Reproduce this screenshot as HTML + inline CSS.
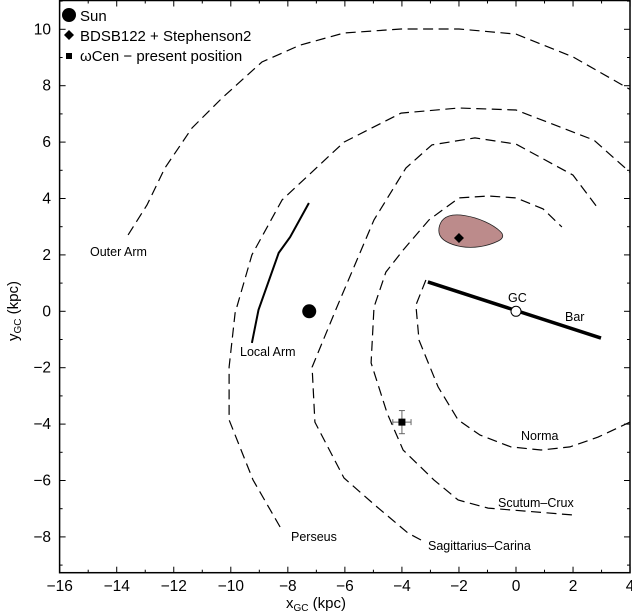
<!DOCTYPE html>
<html><head><meta charset="utf-8"><style>
html,body{margin:0;padding:0;background:#fff}
svg{display:block;font-family:"Liberation Sans",sans-serif}
</style></head><body>
<svg id="chart" width="632" height="613" viewBox="0 0 632 613" xmlns="http://www.w3.org/2000/svg"></svg>
<script>
// ---- data (kpc) ----
const outerX = [-13.6,-12.94,-12.31,-11.36,-10.31,-8.91,-7.57,-6.03,-4.03,-2.0,0,2.0,4.03];
const outerY = [2.71,3.77,5.08,6.5,7.56,8.84,9.44,9.87,10.01,10.01,9.83,9.02,7.85];
const perseusX = [-8.27,-9.22,-10.06,-10.06,-9.85,-9.26,-8.2,-6.03,-4.03,-2.0,0,2.73,4.03];
const perseusY = [-7.65,-5.98,-3.85,-1.98,-0.06,2.0,3.95,6.0,7.03,7.21,7.14,6.07,4.9];
const sagX = [-3.33,-3.79,-4.87,-6.03,-7.05,-7.15,-6.28,-4.98,-3.86,-2.95,-1.44,0,2.0,2.84];
const sagY = [-8.11,-7.86,-6.94,-5.91,-3.93,-1.98,0.15,3.24,5.08,5.9,6.15,5.93,4.83,3.7];
const scutumX = [1.96,-0.98,-2.03,-2.88,-3.96,-4.52,-5.08,-4.98,-4.56,-3.96,-3.05,-2.0,-0.95,0,0.95,1.61];
const scutumY = [-7.22,-6.98,-6.69,-5.98,-4.92,-3.61,-1.83,0.15,1.39,2.17,3.24,4.02,4.09,4.02,3.63,2.99];
const normaX = [4.0,2.88,1.89,0.88,-0.18,-1.26,-2.03,-2.73,-3.4,-3.51,-3.16];
const normaY = [-3.93,-4.46,-4.81,-4.92,-4.81,-4.39,-3.85,-2.68,-1.02,0.22,1.11];
const localX = [-9.26,-9.03,-8.32,-7.92,-7.26];
const localY = [-1.12,0.05,2.07,2.63,3.84];
const barX = [-3.09,2.98];
const barY = [1.04,-0.95];
const blobX = [-0.35,-0.74,-1.44,-2.14,-2.56,-2.73,-2.66,-2.24,-1.61,-0.91,-0.35];
const blobY = [2.63,3.02,3.34,3.45,3.31,2.95,2.6,2.35,2.24,2.35,2.56];
const sunPos = [-7.25,0];
const gcPos = [0,0];
const clusterPos = [-2.0,2.6];
const omegaPos = [-4.0,-3.93];
const omegaErr = [0.32,0.41];
const xTicks = [-16,-14,-12,-10,-8,-6,-4,-2,0,2,4];
const xTickLabels = ["\u221216","\u221214","\u221212","\u221210","\u22128","\u22126","\u22124","\u22122","0","2","4"];
const yTicks = [-8,-6,-4,-2,0,2,4,6,8,10];
const yTickLabels = ["\u22128","\u22126","\u22124","\u22122","0","2","4","6","8","10"];

// ---- axes ----
const L=59.6, R=630, T=0.5, B=572.7;
const sx = v => 516 + v*28.52;
const sy = v => 311.3 - v*28.2;
const NS="http://www.w3.org/2000/svg";
const svg=document.getElementById('chart');
function mk(tag,attrs,parent){const e=document.createElementNS(NS,tag);for(const k in attrs)e.setAttribute(k,attrs[k]);(parent||svg).appendChild(e);return e;}
function pts(xs,ys){return xs.map((x,i)=>sx(x).toFixed(1)+','+sy(ys[i]).toFixed(1)).join(' ');}

const clipDef=mk('defs',{});
const cp=mk('clipPath',{id:'pc'},clipDef);
mk('rect',{x:L,y:T,width:R-L,height:B-T},cp);
const plot=mk('g',{'clip-path':'url(#pc)'});



function arm(xs,ys,name){
  const p=mk('polyline',{points:pts(xs,ys),fill:'none',stroke:'#000','stroke-width':1.2,'stroke-dasharray':'10,5.5'},plot);
  
  
}
arm(outerX,outerY,'outer-arm-line');
arm(perseusX,perseusY,'perseus-arm-line');
arm(sagX,sagY,'sagittarius-carina-arm-line');
arm(scutumX,scutumY,'scutum-crux-arm-line');
arm(normaX,normaY,'norma-arm-line');

const loc=mk('polyline',{points:pts(localX,localY),fill:'none',stroke:'#000','stroke-width':2},plot);



(function(){
  const n=blobX.length-1;
  const P=[];for(let i=0;i<n;i++)P.push([sx(blobX[i]),sy(blobY[i])]);
  const mid=(a,b)=>[(a[0]+b[0])/2,(a[1]+b[1])/2];
  let m0=mid(P[n-1],P[0]);
  let d='M'+m0[0].toFixed(1)+','+m0[1].toFixed(1);
  for(let i=0;i<n;i++){const m=mid(P[i],P[(i+1)%n]);d+=' Q'+P[i][0].toFixed(1)+','+P[i][1].toFixed(1)+' '+m[0].toFixed(1)+','+m[1].toFixed(1);}
  const b=mk('path',{d:d+'Z',fill:'#bc8b8b',stroke:'#222','stroke-width':0.8},plot);
  
  
})();

const bar=mk('line',{x1:sx(barX[0]),y1:sy(barY[0]),x2:sx(barX[1]),y2:sy(barY[1]),stroke:'#000','stroke-width':3.5},plot);



const gc=mk('circle',{cx:sx(gcPos[0]),cy:sy(gcPos[1]),r:5,fill:'#fff',stroke:'#000','stroke-width':1},plot);



const sun=mk('circle',{cx:sx(sunPos[0]),cy:sy(sunPos[1]),r:7,fill:'#000'},plot);



const cx=sx(clusterPos[0]),cy=sy(clusterPos[1]);
const dia=mk('polygon',{points:`${cx},${cy-5} ${cx+5},${cy} ${cx},${cy+5} ${cx-5},${cy}`,fill:'#000'},plot);



const ox=sx(omegaPos[0]),oy=sy(omegaPos[1]);
const eb=mk('g',{stroke:'#666','stroke-width':1},plot);


mk('line',{x1:sx(omegaPos[0]-omegaErr[0]),y1:oy,x2:sx(omegaPos[0]+omegaErr[0]),y2:oy},eb);
mk('line',{x1:ox,y1:sy(omegaPos[1]+omegaErr[1]),x2:ox,y2:sy(omegaPos[1]-omegaErr[1])},eb);
mk('line',{x1:sx(omegaPos[0]-omegaErr[0]),y1:oy-3,x2:sx(omegaPos[0]-omegaErr[0]),y2:oy+3},eb);
mk('line',{x1:sx(omegaPos[0]+omegaErr[0]),y1:oy-3,x2:sx(omegaPos[0]+omegaErr[0]),y2:oy+3},eb);
mk('line',{x1:ox-3,y1:sy(omegaPos[1]+omegaErr[1]),x2:ox+3,y2:sy(omegaPos[1]+omegaErr[1])},eb);
mk('line',{x1:ox-3,y1:sy(omegaPos[1]-omegaErr[1]),x2:ox+3,y2:sy(omegaPos[1]-omegaErr[1])},eb);
const sq=mk('rect',{x:ox-3.5,y:oy-3.5,width:7,height:7,fill:'#000'},plot);



function lab(txt,x,y,name){const t=mk('text',{x:x,y:y,'font-size':12.5,fill:'#000'});t.textContent=txt;
  
  }
lab('Outer Arm',90,256,'outer-arm-label');
lab('Local Arm',240,356,'local-arm-label');
lab('Perseus',291,541,'perseus-label');
lab('Sagittarius\u2013Carina',428,550,'sagittarius-carina-label');
lab('Scutum\u2013Crux',498,507,'scutum-crux-label');
lab('Norma',521,440,'norma-label');
lab('GC',508,302,'gc-label');
lab('Bar',565,321,'bar-label');

const fr=mk('rect',{x:L,y:T,width:R-L,height:B-T,fill:'none',stroke:'#000','stroke-width':1.5});



const tg=mk('g',{stroke:'#000','stroke-width':1});


for(let v=-16;v<=4;v++){const x=sx(v),len=(v%2===0)?6:3;
  mk('line',{x1:x,y1:B,x2:x,y2:B-len},tg);mk('line',{x1:x,y1:T,x2:x,y2:T+len},tg);}
for(let v=-9;v<=11;v++){const y=sy(v);if(y<T||y>B)continue;const len=(v%2===0)?6:3;
  mk('line',{x1:L,y1:y,x2:L+len,y2:y},tg);mk('line',{x1:R,y1:y,x2:R-len,y2:y},tg);}

xTicks.forEach((v,i)=>{const t=mk('text',{x:sx(v),y:591,'font-size':15.5,'text-anchor':'middle'});t.textContent=xTickLabels[i];
  
  });
yTicks.forEach((v,i)=>{const t=mk('text',{x:51,y:sy(v)+5,'font-size':15.5,'text-anchor':'end'});t.textContent=yTickLabels[i];
  
  });

const xt=mk('text',{x:316,y:608,'font-size':15,'text-anchor':'middle'});
xt.innerHTML='x<tspan font-size="10" dy="3">GC</tspan><tspan dy="-3"> (kpc)</tspan>';


const yt=mk('text',{x:0,y:0,'font-size':15,'text-anchor':'middle',transform:'translate(18,311) rotate(-90)'});
yt.innerHTML='y<tspan font-size="10" dy="3">GC</tspan><tspan dy="-3"> (kpc)</tspan>';



const lg=mk('g',{});


mk('circle',{cx:69,cy:15,r:7,fill:'#000'},lg);
mk('polygon',{points:'69,30 74,35 69,40 64,35',fill:'#000'},lg);
mk('rect',{x:66,y:53,width:6,height:6,fill:'#000'},lg);
[['Sun',21],['BDSB122 + Stephenson2',41],['\u03c9Cen \u2212 present position',61]].forEach(a=>{
  const t=mk('text',{x:80,y:a[1],'font-size':15},lg);t.textContent=a[0];
  
  });
</script>
</body></html>
